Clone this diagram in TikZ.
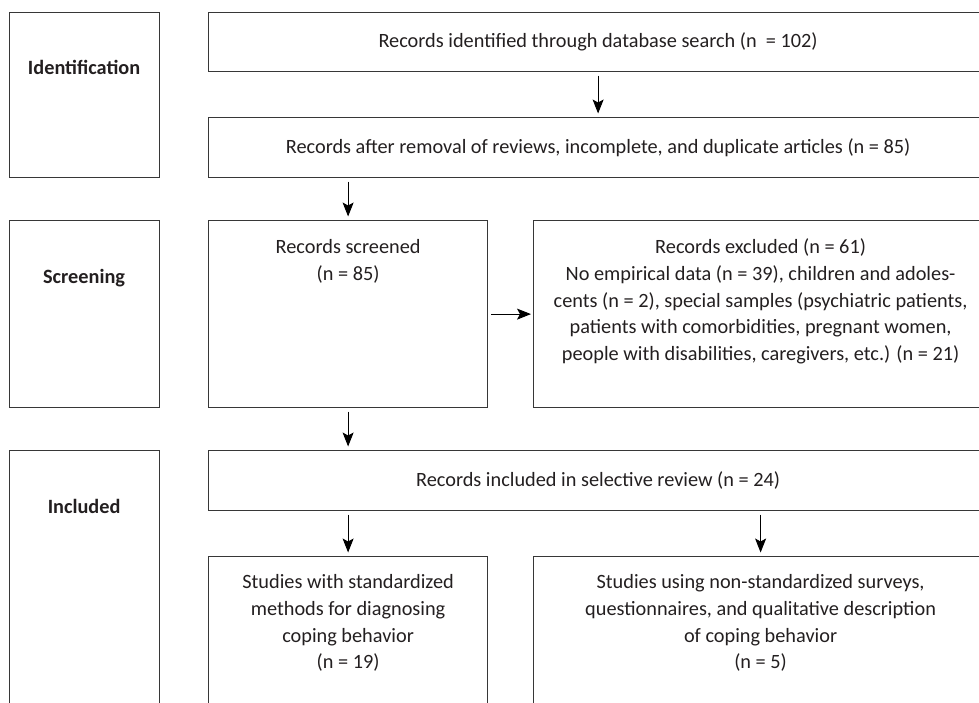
\documentclass[tikz,border=0pt]{standalone}
\usepackage{fontspec}
\setmainfont{Carlito}
\usetikzlibrary{arrows.meta,calc}
\definecolor{linec}{RGB}{55,55,55}
\definecolor{textc}{RGB}{35,31,32}
\begin{document}
\begin{tikzpicture}[x=1pt,y=-1pt,
  box/.style={draw=linec, line width=1.2pt, anchor=north west, inner sep=0pt, rectangle},
  txt/.style={font=\fontsize{20.3}{26.8}\selectfont, text=textc, align=center, inner sep=0pt},
  lab/.style={font=\fontsize{20.3}{26.8}\selectfont\bfseries, text=textc, inner sep=0pt, anchor=base},
  arr/.style={-{Stealth[length=14pt,width=11pt,inset=3pt]}, line width=1pt, draw=black},
  varr/.style={arr, shorten <=3.5pt, shorten >=3.5pt},
  harr/.style={arr, shorten <=3pt, shorten >=2pt}]
\path[use as bounding box] (0,0) rectangle (979,702);
\clip (0,0) rectangle (979,702);
% left stage boxes
\node[box, minimum width=150pt, minimum height=165pt] (idf) at (8.5,12) {};
\node[box, minimum width=150pt, minimum height=187pt] (scn) at (8.5,220) {};
\node[box, minimum width=150pt, minimum height=280pt] (inc) at (8.5,450) {};
\node[lab] (lidf) at ($(idf.north)+(0,62)$) {Identification};
\node[lab] (lscn) at ($(scn.north)+(0,63)$) {Screening};
\node[lab] (linc) at ($(inc.north)+(0,63)$) {Included};
% right boxes
\node[box, minimum width=779pt, minimum height=59pt] (b1) at (208,12) {};
\node[box, minimum width=779pt, minimum height=60pt] (b2) at (208,117) {};
\node[box, minimum width=279pt, minimum height=187pt] (scr) at (208,220) {};
\node[box, minimum width=454pt, minimum height=187pt] (exc) at (533,220) {};
\node[box, minimum width=779pt, minimum height=60pt] (rin) at (208,450) {};
\node[box, minimum width=279pt, minimum height=170pt] (std) at (208,556) {};
\node[box, minimum width=454pt, minimum height=170pt] (nst) at (533,556) {};
% texts
\node[txt] (t1) at (b1.center) {Records identified through database search (n\ \ = 102)};
\node[txt] (t2) at (b2.center) {Records after removal of reviews, incomplete, and duplicate articles (n = 85)};
\node[txt, anchor=north] (t3) at ($(scr.north)+(0,14.5)$) {\strut Records screened\\(n = 85)};
\node[txt, anchor=north] (t4) at ($(exc.north)+(0,14.5)$) {\strut Records excluded (n = 61)\\
No empirical data (n = 39), children and adoles-\\
cents (n = 2), special samples (psychiatric patients,\\
patients with comorbidities, pregnant women,\\
people with disabilities, caregivers, etc.) (n = 21)};
\node[txt] (t5) at (rin.center) {Records included in selective review (n = 24)};
\node[txt, anchor=north] (t6) at ($(std.north)+(0,13.5)$) {\strut Studies with standardized\\methods for diagnosing\\coping behavior\\(n = 19)};
\node[txt, anchor=north] (t7) at ($(nst.north)+(0,13.5)$) {\strut Studies using non-standardized surveys,\\questionnaires, and qualitative description\\of coping behavior\\(n = 5)};
% arrows
\draw[varr] (b1.south) -- (b2.north);
\draw[varr] (b2.south -| scr.north) -- (scr.north);
\draw[harr] (scr.east) -- (exc.west);
\draw[varr] (scr.south) -- (scr.south |- rin.north);
\draw[varr] (std.north |- rin.south) -- (std.north);
\draw[varr] (nst.north |- rin.south) -- (nst.north);
\end{tikzpicture}
\end{document}
